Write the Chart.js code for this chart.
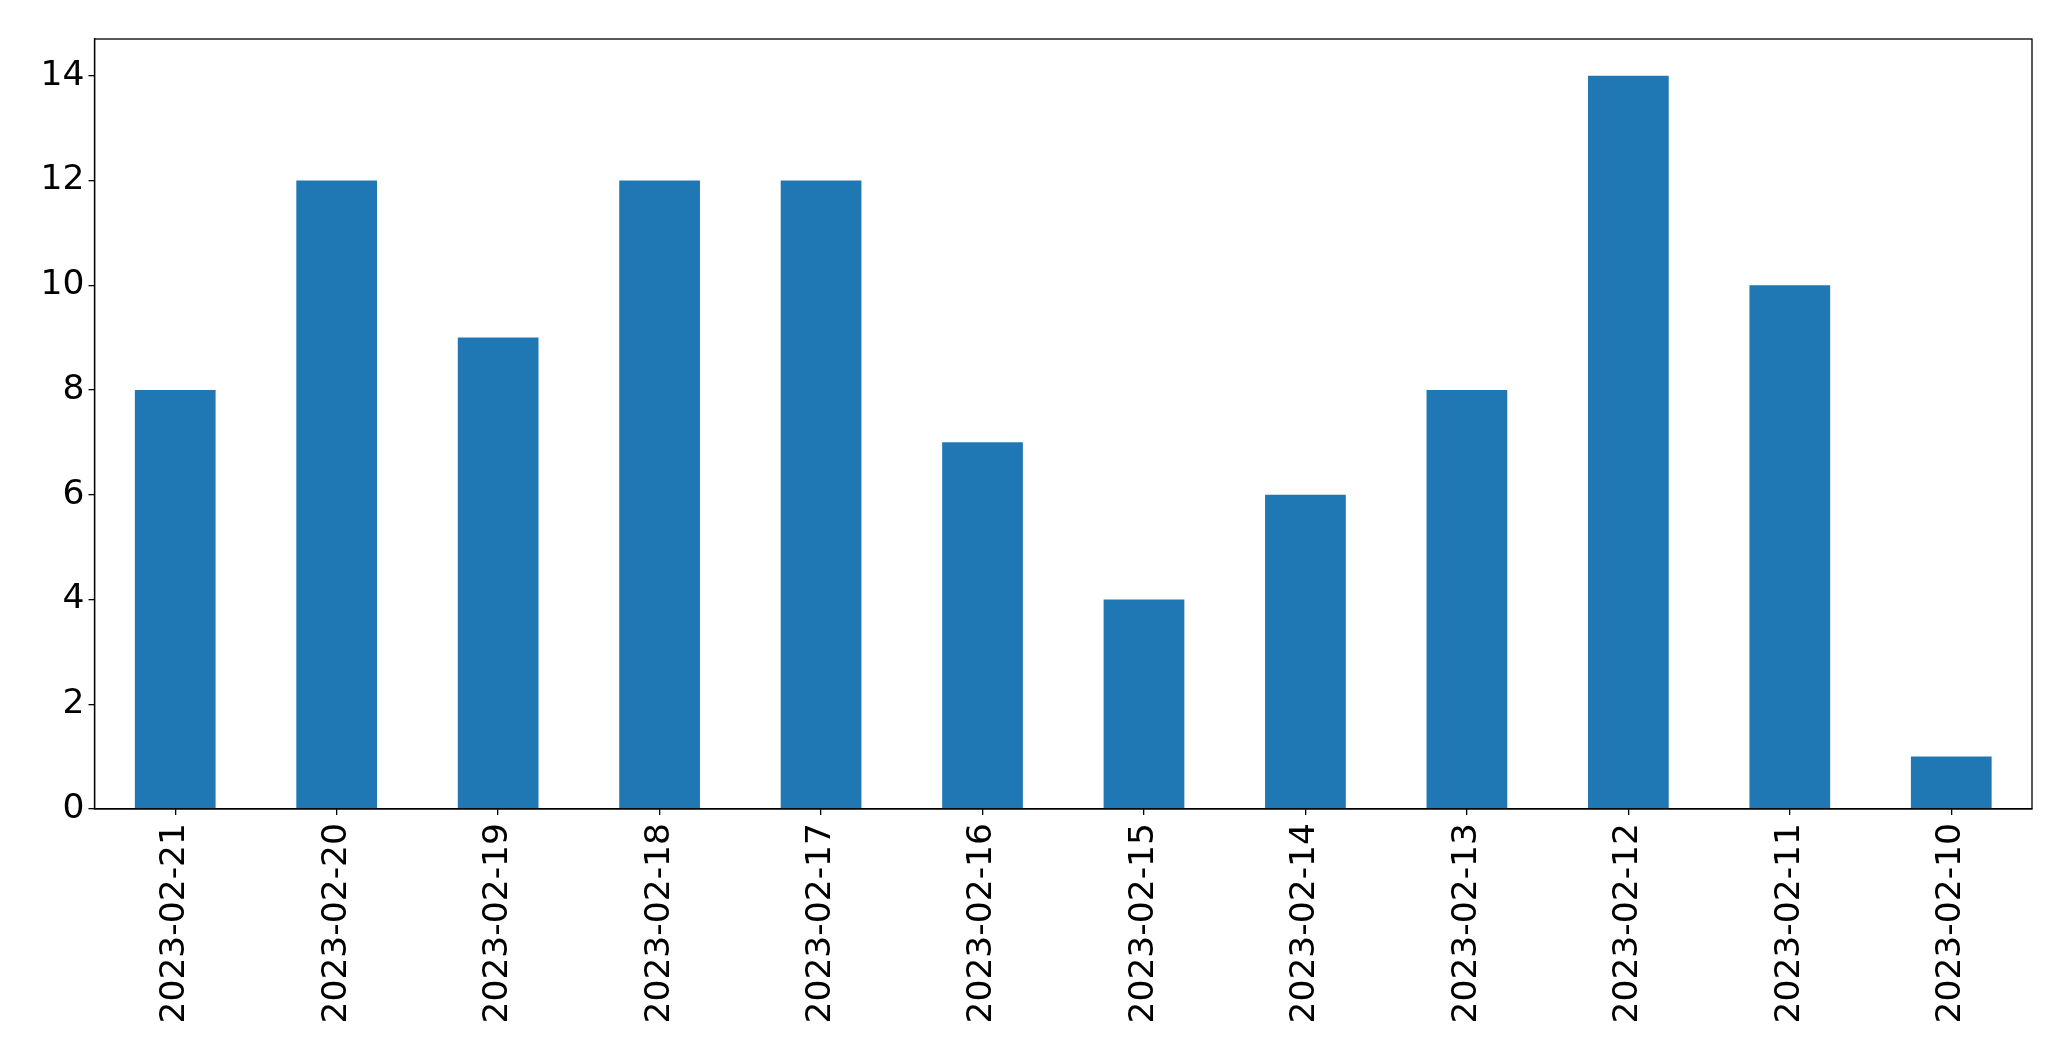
<!DOCTYPE html>
<html>
<head>
<meta charset="utf-8">
<script src="https://cdn.jsdelivr.net/npm/chart.js@4"></script>
<style>
  html, body { margin: 0; padding: 0; background: #fff; }
  #wrap { width: 2071px; height: 1061px; }
</style>
</head>
<body>
<div id="wrap"><canvas id="chart" width="2071" height="1061"></canvas></div>
<script>
// Data
const dates = ['2023-02-21', '2023-02-20', '2023-02-19', '2023-02-18', '2023-02-17', '2023-02-16',
               '2023-02-15', '2023-02-14', '2023-02-13', '2023-02-12', '2023-02-11', '2023-02-10'];
const counts = [8, 12, 9, 12, 12, 7, 4, 6, 8, 14, 10, 1];
const yTicks = [0, 2, 4, 6, 8, 10, 12, 14];

// box round the plot area (matplotlib style frame)
const frame = {
    id: 'frame',
    afterDraw(chart) {
        const a = chart.chartArea;
        const ctx = chart.ctx;
        ctx.save();
        ctx.strokeStyle = '#000';
        ctx.lineWidth = 1.3;
        ctx.strokeRect(a.left, a.top, a.right - a.left, a.bottom - a.top);
        ctx.restore();
    }
};

const font = { family: 'DejaVu Sans', size: 34.5 };

new Chart(document.getElementById('chart'), {
    type: 'bar',
    data: {
        labels: dates,
        datasets: [{
            data: counts,
            backgroundColor: '#1f77b4',
            barPercentage: 0.5,
            categoryPercentage: 1.0
        }]
    },
    options: {
        responsive: false,
        animation: false,
        layout: { padding: { top: 39, right: 39, left: 0, bottom: 0 } },
        plugins: { legend: { display: false }, tooltip: { enabled: false } },
        scales: {
            x: {
                offset: true,
                grid: { display: true, offset: false, drawOnChartArea: false, drawTicks: true, tickLength: 6, color: '#000', lineWidth: 1.3 },
                border: { display: true, color: '#000', width: 1.3 },
                ticks: { color: '#000', font: font, minRotation: 90, maxRotation: 90, padding: 8, autoSkip: false },
                afterFit(scale) { scale.height = 252; }
            },
            y: {
                min: 0,
                max: 14.7,
                grid: { display: true, drawOnChartArea: false, drawTicks: true, tickLength: 6, color: '#000', lineWidth: 1.3 },
                border: { display: true, color: '#000', width: 1.3 },
                ticks: { color: '#000', font: font, stepSize: 2, includeBounds: false, padding: 4 },
                afterBuildTicks(scale) { scale.ticks = yTicks.map(v => ({ value: v })); },
                afterFit(scale) { scale.width = 94.5; }
            }
        }
    },
    plugins: [frame]
});
</script>
</body>
</html>
